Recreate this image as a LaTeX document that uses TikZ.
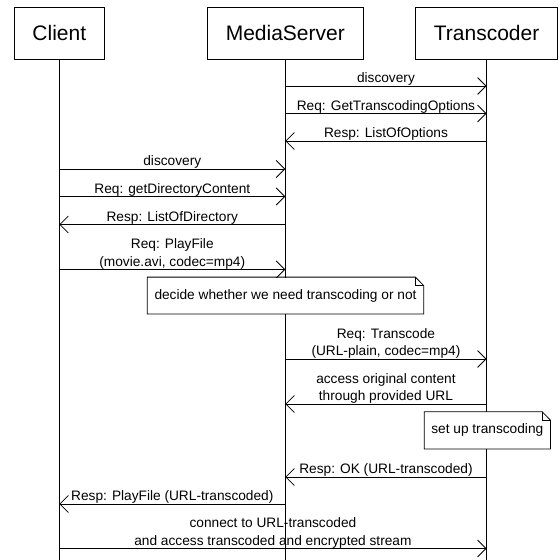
\documentclass[tikz,border=0pt]{standalone}
\usepackage{fontspec}
\setmainfont{Liberation Sans}
\usetikzlibrary{arrows.meta}

\begin{document}
\begin{tikzpicture}[x=1pt, y=-1pt, line width=0.8pt,
  actor/.style={draw, fill=white, inner sep=0pt, font=\fontsize{21}{25}\selectfont},
  lifeline/.style={draw},
  msg/.style={-{Straight Barb[length=8.5pt, width=17pt]}},
  lbl/.style={font=\fontsize{13.7}{17.3}\selectfont, align=center, inner sep=0pt,
    anchor=base, yshift=3.5pt},
  notebox/.style={fill=white, inner sep=0pt, font=\fontsize{13.7}{17.3}\selectfont},
  noteline/.style={draw}
]
\useasboundingbox (0,0) rectangle (558,560);

% participants
\node[actor, minimum width=90pt, minimum height=52pt] (client) at (59.3,33) {Client};
\node[actor, minimum width=155.5pt, minimum height=52pt] (ms) at (285.3,33) {MediaServer};
\node[actor, minimum width=141.8pt, minimum height=52pt] (tc) at (486.6,33) {Transcoder};

% lifelines down to the bottom edge
\coordinate (bottom) at (0,560);
\draw[lifeline] (client.south) -- (client.south |- bottom);
\draw[lifeline] (ms.south) -- (ms.south |- bottom);
\draw[lifeline] (tc.south) -- (tc.south |- bottom);

% message rows
\coordinate (r1) at (0,86);
\coordinate (r2) at (0,113.5);
\coordinate (r3) at (0,141);
\coordinate (r4) at (0,169);
\coordinate (r5) at (0,196.5);
\coordinate (r6) at (0,224.5);
\coordinate (r7) at (0,269.5);
\coordinate (r8) at (0,359);
\coordinate (r9) at (0,404);
\coordinate (r10) at (0,477);
\coordinate (r11) at (0,504);
\coordinate (r12) at (0,548.5);

\draw[msg] (ms |- r1) -- node[lbl] (l1) {discovery} (tc |- r1);
\draw[msg] (ms |- r2) -- node[lbl] (l2) {Req: GetTranscodingOptions} (tc |- r2);
\draw[msg] (tc |- r3) -- node[lbl] (l3) {Resp: ListOfOptions} (ms |- r3);
\draw[msg] (client |- r4) -- node[lbl] (l4) {discovery} (ms |- r4);
\draw[msg] (client |- r5) -- node[lbl] (l5) {Req: getDirectoryContent} (ms |- r5);
\draw[msg] (ms |- r6) -- node[lbl] (l6) {Resp: ListOfDirectory} (client |- r6);
\draw[msg] (client |- r7) -- node[lbl] (l7) {Req: PlayFile\\(movie.avi, codec=mp4)} (ms |- r7);

% note: decision on the media server
\node[notebox, minimum width=275.6pt, minimum height=36pt] (n1) at (285.5,295.5)
  {decide whether we need transcoding or not};
\draw[noteline] (n1.south west) -- (n1.north west) -- ([xshift=-8.3pt]n1.north east)
  -- ([yshift=-8.5pt]n1.north east) -- (n1.south east) -- cycle;
\draw[noteline] ([xshift=-8.3pt]n1.north east) |- ([yshift=-8.5pt]n1.north east);

\draw[msg] (ms |- r8) -- node[lbl] (l8) {Req: Transcode\\(URL-plain, codec=mp4)} (tc |- r8);
\draw[msg] (tc |- r9) -- node[lbl] (l9) {access original content\\through provided URL} (ms |- r9);

% note: transcoder setup
\node[notebox, minimum width=125.4pt, minimum height=36.5pt] (n2) at (487.3,430.3)
  {set up transcoding};
\draw[noteline] (n2.south west) -- (n2.north west) -- ([xshift=-8.3pt]n2.north east)
  -- ([yshift=-8.5pt]n2.north east) -- (n2.south east) -- cycle;
\draw[noteline] ([xshift=-8.3pt]n2.north east) |- ([yshift=-8.5pt]n2.north east);

\draw[msg] (tc |- r10) -- node[lbl] (l10) {Resp: OK (URL-transcoded)} (ms |- r10);
\draw[msg] (ms |- r11) -- node[lbl] (l11) {Resp: PlayFile (URL-transcoded)} (client |- r11);
\draw[msg] (client |- r12) -- node[lbl] (l12) {connect to URL-transcoded\\and access transcoded and encrypted stream} (tc |- r12);
\end{tikzpicture}
\end{document}
